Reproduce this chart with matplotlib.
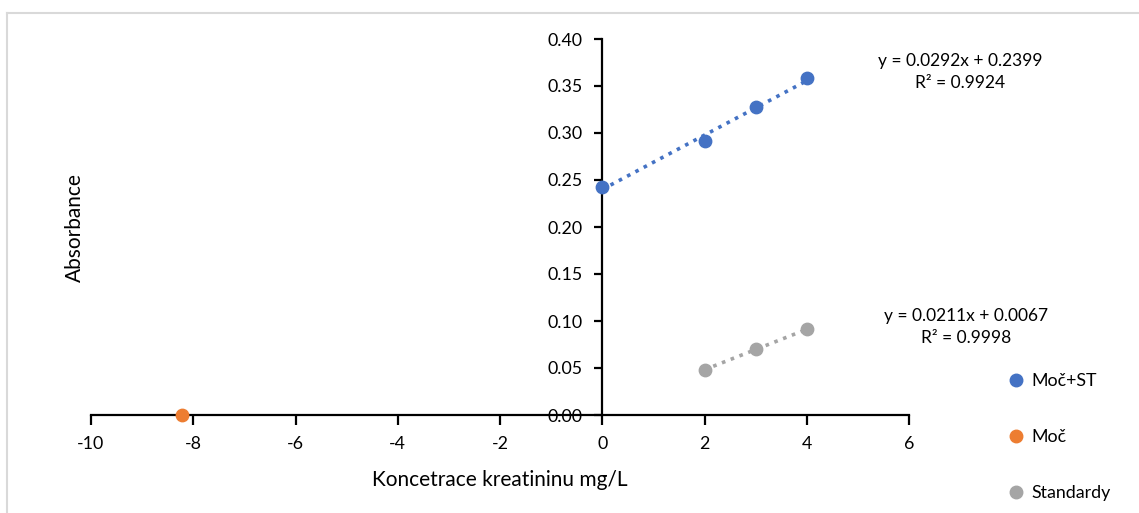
import numpy as np
import matplotlib
matplotlib.use('Agg')
import matplotlib.pyplot as plt
from matplotlib.lines import Line2D

plt.rcParams['font.family'] = ['Lato', 'DejaVu Sans']
plt.rcParams['axes.unicode_minus'] = False

# -----------------------------
# data
# -----------------------------
x_st = [0, 2, 3, 4]
y_st = [0.243, 0.291, 0.328, 0.358]

x_moc = [-8.22]
y_moc = [0.0]

x_std = [2, 3, 4]
y_std = [0.048, 0.070, 0.091]

eq_st = "y = 0.0292x + 0.2399\nR² = 0.9924"
eq_std = "y = 0.0211x + 0.0067\nR² = 0.9998"

labels = ["Moč+ST", "Moč", "Standardy"]
c_blue = "#4472C4"
c_orange = "#ED7D31"
c_gray = "#A5A5A5"

W, H = 1139, 513
fig = plt.figure(figsize=(W / 100, H / 100), dpi=100)
ax = fig.add_axes([91 / W, 1 - 415 / H, (909 - 91) / W, (415 - 39) / H])

# trendlines (linear fits)
for xs, ys, col in [(x_st, y_st, c_blue), (x_std, y_std, c_gray)]:
    k, q = np.polyfit(xs, ys, 1)
    xx = np.array([min(xs), max(xs)])
    ax.plot(xx, k * xx + q, ls=(0, (1, 1.6)), lw=2.6, color=col, zorder=2)

ax.scatter(x_st, y_st, s=80, color=c_blue, zorder=3, clip_on=False)
ax.scatter(x_moc, y_moc, s=80, color=c_orange, zorder=3, clip_on=False)
ax.scatter(x_std, y_std, s=80, color=c_gray, zorder=3, clip_on=False)

ax.set_xlim(-10, 6)
ax.set_ylim(0, 0.40)
ax.set_xticks(np.arange(-10, 7, 2))
ax.set_yticks(np.arange(0, 0.41, 0.05))
ax.yaxis.set_major_formatter(matplotlib.ticker.FormatStrFormatter('%.2f'))

ax.spines['left'].set_position(('data', 0))
ax.spines['bottom'].set_position(('data', 0))
ax.spines['top'].set_visible(False)
ax.spines['right'].set_visible(False)
for s in ['left', 'bottom']:
    ax.spines[s].set_linewidth(1.6)
    ax.spines[s].set_color('black')
ax.tick_params(axis='x', direction='out', length=7, width=1.6, labelsize=12.8, pad=8)
ax.tick_params(axis='y', direction='out', length=6, width=1.6, labelsize=12.8, pad=8)
ax.patch.set_visible(False)

fig.text(75 / W, 1 - 228 / H, "Absorbance", rotation=90, ha='center', va='center', fontsize=15)
fig.text(500 / W, 1 - 480 / H, "Koncetrace kreatininu mg/L", ha='center', va='center', fontsize=15)

fig.text(960 / W, 1 - 72 / H, eq_st, ha='center', va='center', fontsize=12.5, linespacing=1.45)
fig.text(966 / W, 1 - 327 / H, eq_std, ha='center', va='center', fontsize=12.5, linespacing=1.45)

# legend
handles = [Line2D([], [], ls='none', marker='o', markersize=9, color=c) for c in [c_blue, c_orange, c_gray]]
fig.legend(handles, labels, loc='upper left', bbox_to_anchor=(1005 / W, 1 - 373 / H),
           frameon=False, fontsize=12.8, labelspacing=2.25, handletextpad=0.3,
           handlelength=1.2, borderaxespad=0, borderpad=0)

# light chart frame
fig.add_artist(Line2D([7 / W, 1], [1 - 13 / H, 1 - 13 / H], color='#D9D9D9', lw=1.5))
fig.add_artist(Line2D([7 / W, 7 / W], [0, 1 - 13 / H], color='#D9D9D9', lw=1.5))

fig.savefig("out.png", dpi=100)
